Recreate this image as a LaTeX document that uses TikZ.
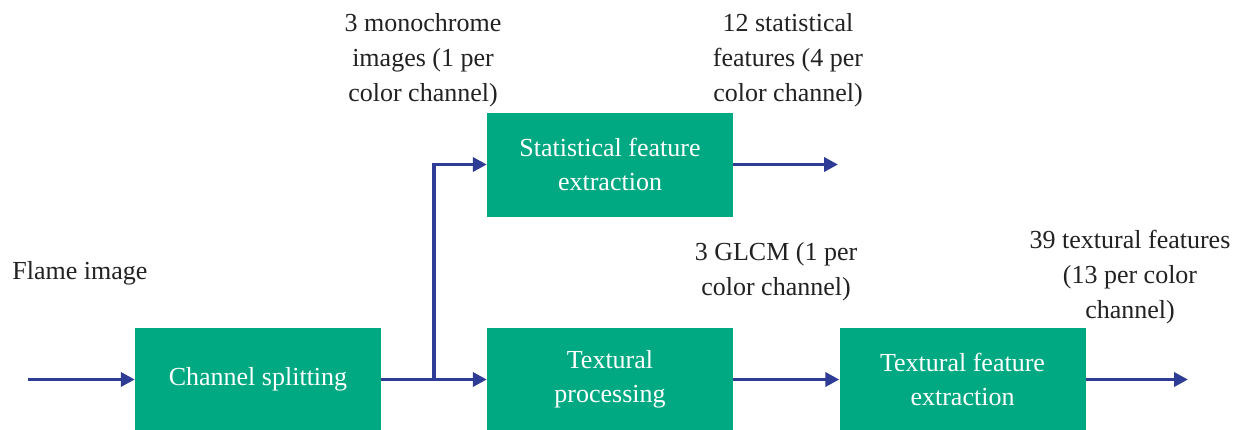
\documentclass[tikz,border=0pt]{standalone}
\usepackage{fontspec}
\setmainfont{Liberation Serif}
\usetikzlibrary{arrows.meta}
\definecolor{boxgreen}{RGB}{0,169,130}
\definecolor{arrowblue}{RGB}{46,60,150}
\definecolor{labelgray}{RGB}{34,34,34}
\begin{document}
\begin{tikzpicture}[x=1pt,y=-1pt,
  blk/.style={fill=boxgreen,draw=none,text=white,minimum width=246pt,minimum height=104pt,inner sep=0pt,align=center,font=\fontsize{26}{34}\selectfont},
  lbl/.style={align=center,font=\fontsize{26}{35}\selectfont,inner sep=0pt,text=labelgray},
  flow/.style={draw=arrowblue,line width=3.5pt,-{Triangle[length=14pt,width=14pt]}}]
\path[use as bounding box] (0,0) rectangle (1237,429);
\clip (0,0) rectangle (1237,429);
\fill[white] (0,0) rectangle (1237,429);
\node[blk] (cs) at (258,379.5) {Channel splitting};
\node[blk] (stat) at (610,164.5) {Statistical feature\\extraction};
\node[blk] (tp) at (610,379.5) {Textural\\processing};
\node[blk] (tfe) at (962.5,379.5) {Textural feature\\extraction};
\coordinate (in) at (28,379.5);
\coordinate (br) at (434,379.5);
\coordinate (sout) at (838,164.5);
\coordinate (out) at (1188,379.5);
\draw[flow] (in) -- (cs);
\draw[flow] (cs) -- (tp);
\draw[flow] (br) |- (stat.west);
\draw[flow] (stat) -- (sout);
\draw[flow] (tp) -- (tfe);
\draw[flow] (tfe) -- (out);
\node[lbl] (l1) at (80,273) {Flame image};
\node[lbl] (l2) at (423,60) {3 monochrome\\images (1 per\\color channel)};
\node[lbl] (l3) at (788,60) {12 statistical\\features (4 per\\color channel)};
\node[lbl] (l4) at (776,272) {3 GLCM (1 per\\color channel)};
\node[lbl] (l5) at (1130,277) {39 textural features\\(13 per color\\channel)};
\end{tikzpicture}
\end{document}
